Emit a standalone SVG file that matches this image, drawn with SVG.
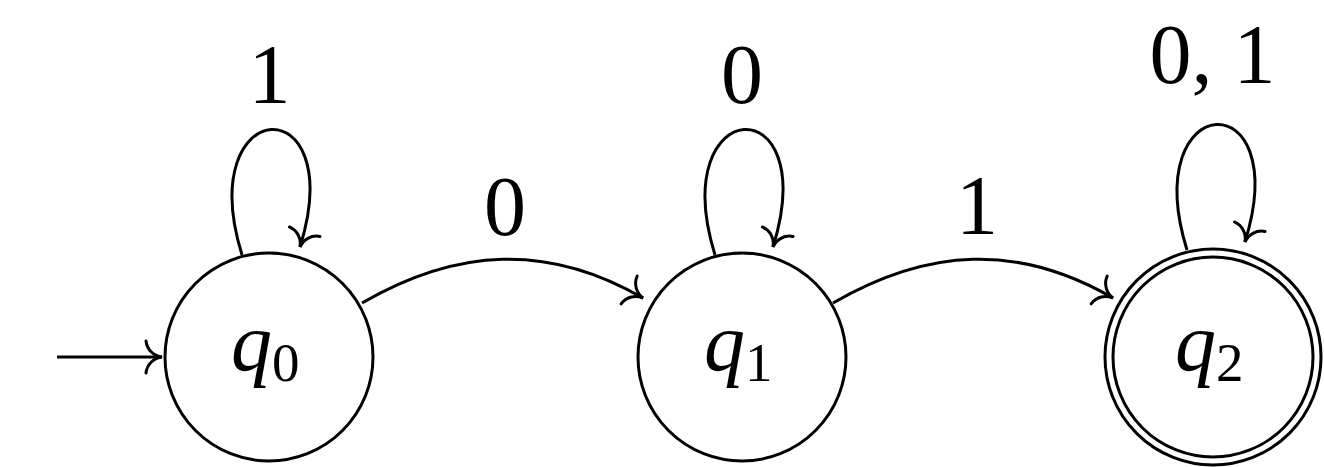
<svg xmlns="http://www.w3.org/2000/svg" width="1324" height="467" viewBox="0 0 1324 467">
<style>
.st{fill:none;stroke:#000;stroke-width:3}
.ed{fill:none;stroke:#000;stroke-width:3}
.lbl{font-family:"Liberation Serif","Times New Roman",serif;font-size:84px;fill:#000;text-anchor:middle}
.q{font-family:"Liberation Serif","Times New Roman",serif;font-size:82px;font-style:italic;fill:#000}
.sub{font-family:"Liberation Serif","Times New Roman",serif;font-size:55px;fill:#000}
</style>
<defs>
<marker id="to" markerUnits="userSpaceOnUse" markerWidth="36" markerHeight="36" viewBox="-19 -18 21 36" refX="0" refY="0" orient="auto">
<path d="M -16 -16 C -15 -7 -8 -1 0 0 C -8 1 -15 7 -16 16" fill="none" stroke="#000" stroke-width="3" stroke-linecap="round"/>
</marker>
</defs>
<rect width="1324" height="467" fill="#fff"/>
<g id="connectors">
<path id="init" class="ed" d="M 57 357 L 162 357" marker-end="url(#to)"/>
<path id="loop-q0" class="ed" d="M 242 255 C 192 93 350 85 300 247" marker-end="url(#to)"/>
<path id="loop-q1" class="ed" d="M 715 255 C 665 93 823 85 773 247" marker-end="url(#to)"/>
<path id="loop-q2" class="ed" d="M 1187 250 C 1137 88 1295 80 1245 242" marker-end="url(#to)"/>
<path id="e01" class="ed" d="M 362 303 C 457 248 548 243 643 298" marker-end="url(#to)"/>
<path id="e12" class="ed" d="M 833 303 C 928 248 1018 243 1113 298" marker-end="url(#to)"/>
<text class="lbl" x="269.5" y="103">1</text>
<text class="lbl" x="742" y="103">0</text>
<text class="lbl" x="1212.5" y="83">0, 1</text>
<text class="lbl" x="505" y="235">0</text>
<text class="lbl" x="977" y="234">1</text>
</g>
<g id="q0">
<circle class="st" cx="269" cy="357" r="104"/>
<text class="q" x="231" y="370">q</text>
<text class="sub" x="272" y="381">0</text>
</g>
<g id="q1">
<circle class="st" cx="742" cy="357" r="104"/>
<text class="q" x="704" y="370">q</text>
<text class="sub" x="745" y="381">1</text>
</g>
<g id="q2">
<circle class="st" cx="1213" cy="357" r="108"/>
<circle class="st" cx="1213" cy="357" r="100"/>
<text class="q" x="1175" y="370">q</text>
<text class="sub" x="1216" y="381">2</text>
</g>
</svg>
